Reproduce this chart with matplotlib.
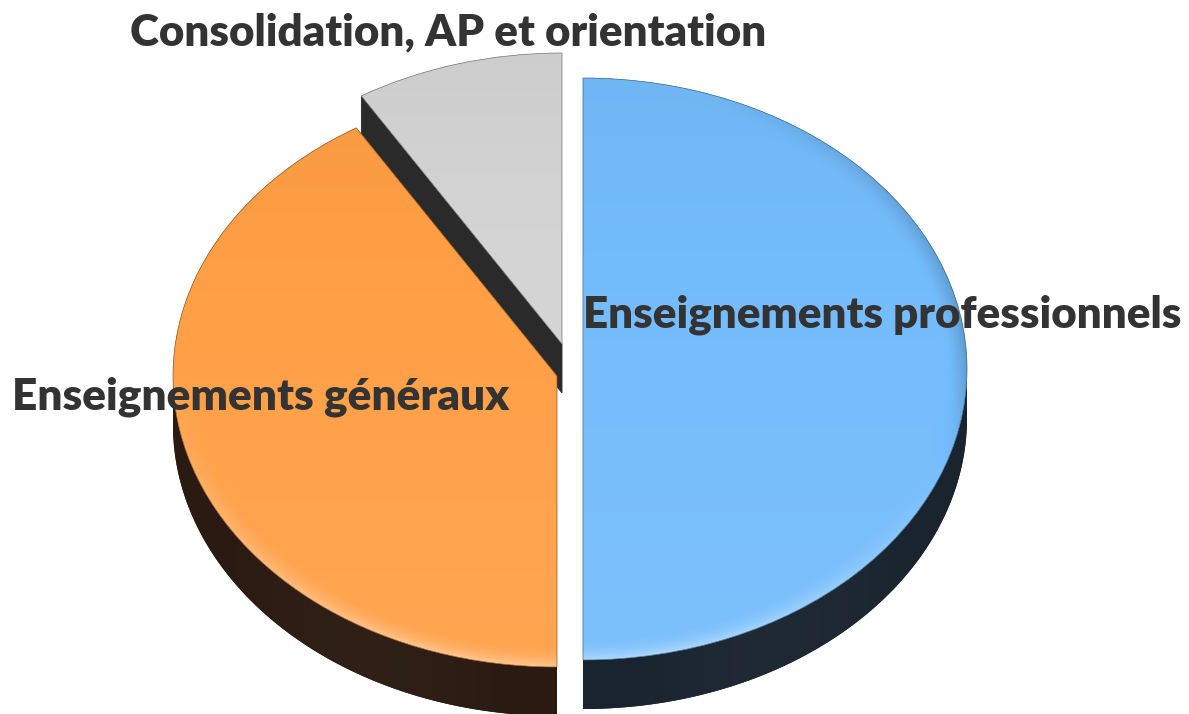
import numpy as np
import matplotlib
matplotlib.use("Agg")
import matplotlib.pyplot as plt
from matplotlib.patches import Wedge, Polygon
from matplotlib.colors import to_rgb

# ---- data ----
labels = ["Enseignements professionnels", "Enseignements généraux",
          "Consolidation, AP et orientation"]
values = [50.0, 41.25, 8.75]
top_colors = ["#73bcfb", "#ff9f45", "#d4d4d4"]
wall_colors = ["#1b2530", "#2b1b12", "#2a2a2a"]

# ---- layout (pixels) ----
W, H = 1189, 714
RX, RY = 384.0, 291.0          # ellipse radii of the top face in pixels
CX, CY = 565.0, 372.0          # pie centre in pixels (from top)
DEPTH = 49.0 / RY              # thickness in y-data units
# exploded offsets of each slice, in pixels (right, up)
offsets_px = [(18, 3), (-8, -4), (-3, 28)]

fig = plt.figure(figsize=(W / 100, H / 100), dpi=100)
ax = fig.add_axes([0, 0, 1, 1])
XL = (-CX / RX, (W - CX) / RX)
YL = (-(H - CY) / RY, CY / RY)
ax.set_xlim(*XL)
ax.set_ylim(*YL)
ax.axis("off")

total = float(sum(values))
cum = np.concatenate([[0.0], np.cumsum(values)]) / total * 360.0


def shade(rgb, f):
    rgb = np.asarray(rgb)
    if f >= 0:
        return rgb + (1 - rgb) * f
    return rgb * (1 + f)


def face_image(i, cx, cy):
    base = np.array(to_rgb(top_colors[i]))
    nx, ny = 500, 400
    xs = np.linspace(cx - 1.05, cx + 1.05, nx)
    ys = np.linspace(cy + 1.05, cy - 1.05, ny)
    X, Y = np.meshgrid(xs, ys)
    dx, dy = X - cx, Y - cy
    r = np.sqrt(dx ** 2 + dy ** 2)
    img = np.empty((ny, nx, 3))
    g = np.clip((-(dy)) * 0.5 + 0.5, 0, 1)  # 0 back .. 1 front
    light = 0.10 * g - 0.03
    rim = np.clip((r - 0.93) / 0.07, 0, 1) ** 2
    front = np.clip(-dy / np.maximum(r, 1e-6), 0, 1)
    backright = np.clip((dx - 0.3 * dy) / np.maximum(r, 1e-6), 0, 1) * (1 - front)
    light = light + rim * (0.35 * front - 0.2 * backright)
    for k in range(3):
        c = base[k]
        img[..., k] = np.where(light >= 0, c + (1 - c) * light, c * (1 + light))
    img = np.clip(img, 0, 1)
    return img, (xs[0], xs[-1], ys[-1], ys[0])


def wall_image(i, x0, x1, y0, y1):
    base = np.array(to_rgb(wall_colors[i]))
    nx = 400
    xs = np.linspace(x0, x1, nx)
    t = (xs - x0) / max(x1 - x0, 1e-6)
    f = 0.04 * np.sin(np.pi * t) - 0.02
    row = np.array([np.where(f >= 0, base[k] + (1 - base[k]) * f,
                             base[k] * (1 + f)) for k in range(3)]).T
    img = np.repeat(row[None, :, :], 4, axis=0)
    return np.clip(img, 0, 1), (x0, x1, y0, y1)


order = [2, 1, 0]  # back to front
for i in order:
    a1 = 90.0 - cum[i + 1]
    a2 = 90.0 - cum[i]
    cx = offsets_px[i][0] / RX
    cy = offsets_px[i][1] / RY
    wall = np.array(to_rgb(wall_colors[i]))

    # outer curved wall (front half only)
    th = np.linspace(np.deg2rad(a1), np.deg2rad(a2), 400)
    th = th[np.sin(th) < 0]
    if th.size > 1:
        top = np.column_stack([cx + np.cos(th), cy + np.sin(th)])
        bot = top[::-1] - [0, DEPTH]
        poly = Polygon(np.vstack([top, bot]), closed=True,
                       facecolor=wall, edgecolor="none", zorder=2)
        ax.add_patch(poly)
        pts = np.vstack([top, bot])
        wim, wext = wall_image(i, pts[:, 0].min(), pts[:, 0].max(),
                               pts[:, 1].min(), pts[:, 1].max())
        im = ax.imshow(wim, extent=wext, interpolation="bilinear",
                       zorder=2.2, aspect="auto")
        im.set_clip_path(poly)

    # radial cut walls
    for ang, vis in ((a2, np.cos(np.deg2rad(a2)) < -1e-6),
                     (a1, np.cos(np.deg2rad(a1)) > 1e-6)):
        if vis:
            tt = np.deg2rad(ang)
            p0 = np.array([cx, cy])
            p1 = p0 + [np.cos(tt), np.sin(tt)]
            poly = [p0, p1, p1 - [0, DEPTH], p0 - [0, DEPTH]]
            ax.add_patch(Polygon(poly, closed=True, facecolor=wall,
                                 edgecolor=wall, lw=0.6, zorder=2))

    # top face with gradient
    wedge = Wedge((cx, cy), 1.0, a1, a2, facecolor=top_colors[i],
                  edgecolor="none", zorder=3)
    ax.add_patch(wedge)
    img, ext = face_image(i, cx, cy)
    im = ax.imshow(img, extent=ext, interpolation="bilinear", zorder=3.5,
                   aspect="auto")
    im.set_clip_path(wedge)
    ax.add_patch(Wedge((cx, cy), 1.0, a1, a2, facecolor="none",
                       edgecolor=shade(to_rgb(top_colors[i]), -0.45),
                       lw=0.5, zorder=4))

ax.set_xlim(*XL)
ax.set_ylim(*YL)

# ---- labels ----
text_specs = [  # left x px, baseline y px, target width px
    (583, 328, 597),
    (12, 410, 496),
    (130, 45, 635),
]
fig.canvas.draw()
renderer = fig.canvas.get_renderer()
for lab, (lx, by, tw) in zip(labels, text_specs):
    t = fig.text(lx / W, 1 - by / H, lab, fontsize=30, fontweight="heavy",
                 family=["Lato", "DejaVu Sans"], color="#333333",
                 ha="left", va="baseline", zorder=10)
    w = t.get_window_extent(renderer).width
    t.set_fontsize(30 * tw / w)

fig.savefig("out.png", dpi=100, facecolor="white")
